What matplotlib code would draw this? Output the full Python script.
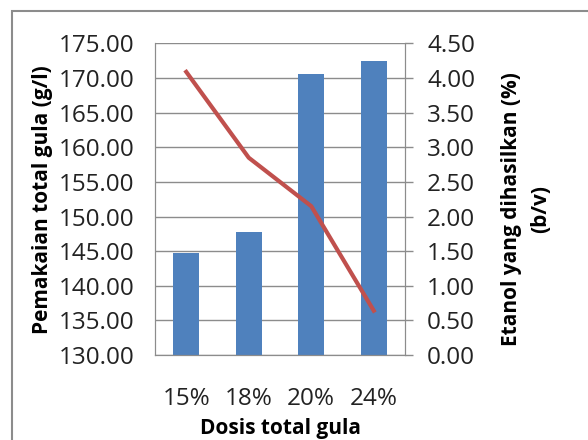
import matplotlib
matplotlib.use("Agg")
import matplotlib.pyplot as plt
import numpy as np
from matplotlib.patches import Rectangle

# data
dosis = ["15%", "18%", "20%", "24%"]
pemakaian = [144.7, 147.8, 170.6, 172.5]
etanol = [4.09, 2.85, 2.15, 0.64]

plt.rcParams['font.family'] = ['Open Sans', 'DejaVu Sans']

fig = plt.figure(figsize=(5.88, 4.4), dpi=100)
ax = fig.add_axes([155/588, 1-355/440, 250/588, 311.5/440])

x = np.arange(len(dosis))
ax.bar(x, pemakaian, width=0.42, color="#4F81BD", zorder=2)
ax.set_ylim(130, 175)
ax.set_xlim(-0.5, 3.5)
ax.set_yticks(np.arange(130, 175.1, 5))
ax.set_yticklabels(["%.2f" % v for v in np.arange(130, 175.1, 5)])
ax.grid(axis="y", color="#8c8c8c", lw=1, zorder=0)
ax.set_xticks(x)
ax.set_xticklabels(dosis)
ax.tick_params(axis="y", length=0, pad=15, labelsize=17.5, colors="#222222")
ax.tick_params(axis="x", length=0, pad=23, labelsize=17.5, colors="#222222")
for s in ax.spines.values():
    s.set_color("#8c8c8c")
ax.spines["top"].set_visible(False)
ax.set_ylabel("Pemakaian total gula (g/l)", fontsize=15, fontweight="bold", labelpad=4)
ax.set_xlabel("Dosis total gula", fontsize=15, fontweight="bold")
ax.xaxis.set_label_coords(0.5, -0.203)

ax2 = ax.twinx()
ax2.plot(x, etanol, color="#C0504D", lw=3, zorder=3)
ax2.set_ylim(0, 4.5)
ax2.set_yticks(np.arange(0, 4.51, 0.5))
ax2.set_yticklabels(["%.2f" % v for v in np.arange(0, 4.51, 0.5)])
ax2.tick_params(axis="y", length=6, width=1, color="#8c8c8c", pad=10, labelsize=17.5, labelcolor="#222222")
for s in ax2.spines.values():
    s.set_color("#8c8c8c")
ax2.spines["top"].set_visible(False)
ax2.set_ylabel("Etanol yang dihasilkan (%)\n(b/v)", fontsize=15, fontweight="bold",
               linespacing=1.5)
ax2.yaxis.set_label_coords(1.385, 0.47)

# chart area border
fig.patches.append(Rectangle((12/588, -0.1), 1.0, 1 - 11/440 + 0.1, transform=fig.transFigure,
                             fill=False, ec="#8c8c8c", lw=1.5))

fig.savefig("out.png", dpi=100)
